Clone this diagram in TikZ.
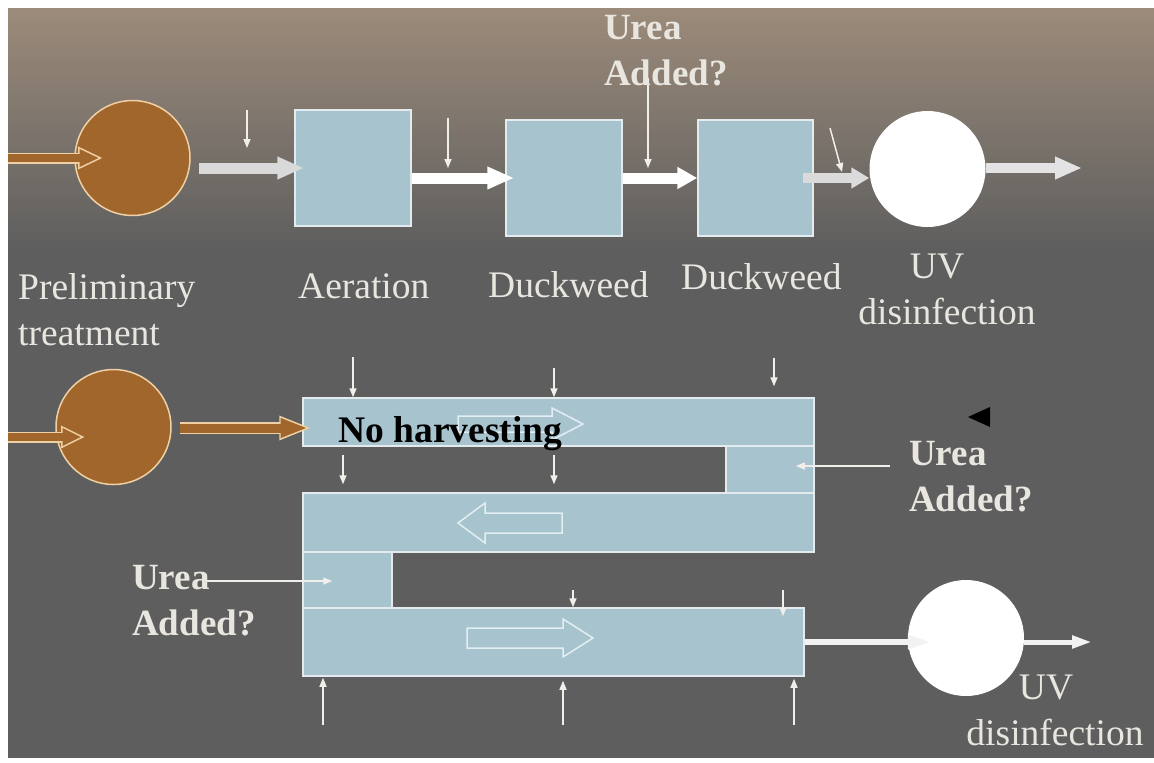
\documentclass[tikz,border=0pt]{standalone}
\usepackage{fontspec}
\setmainfont{Liberation Serif}
\usetikzlibrary{arrows.meta}

\definecolor{bggray}{HTML}{5E5E5E}
\definecolor{bgtop}{HTML}{9C8B7A}
\definecolor{boxblue}{HTML}{A7C3CE}
\definecolor{boxline}{HTML}{E3EBEE}
\definecolor{brownc}{HTML}{A1662C}
\definecolor{creamline}{HTML}{EFD0A4}
\definecolor{labeltext}{HTML}{E8E6DF}
\definecolor{feedc}{HTML}{F0EFEA}
\definecolor{flowline}{HTML}{E2EEF2}

\tikzset{
  txt/.style={text=labeltext, font=\fontsize{37.5}{46}\selectfont, inner sep=0pt, align=left},
  bold txt/.style={txt, font=\fontsize{37}{46}\selectfont\bfseries},
  tank/.style={draw=boxline, line width=1.5pt, fill=boxblue, inner sep=0pt,
    minimum width=116pt, minimum height=116pt},
  channel/.style={draw=boxline, line width=1.5pt, fill=boxblue, inner sep=0pt},
  brownpond/.style={circle, draw=creamline, line width=1.5pt, fill=brownc,
    inner sep=0pt, minimum size=115pt},
  uvpond/.style={circle, fill=white, inner sep=0pt, minimum size=116pt},
  feed/.style={draw=feedc, line width=1.5pt, -{Triangle[length=9pt,width=7pt]}},
  rim/.style={draw=creamline, line width=11pt, -{Triangle[length=25pt,width=21pt]}},
  core/.style={draw=brownc, line width=8pt, -{Triangle[length=19.6pt,width=16.5pt]},
    shorten >=3.9pt},
  pipe/.style={draw=#1, line width=11pt, -{Triangle[length=27pt,width=21pt]}},
  slimpipe/.style={draw=#1, line width=6pt, -{Triangle[length=24pt,width=13pt]}},
  flow/.style={draw=flowline, line width=1.5pt, line join=miter}
}

\begin{document}
\begin{tikzpicture}[x=1pt,y=-1pt]
  \useasboundingbox (0,0) rectangle (1154,763);
  % background
  \fill[white] (0,0) rectangle (1154,763);
  \fill[bggray] (8,8) rectangle (1154,758);
  \shade[top color=bgtop, bottom color=bggray] (8,8) rectangle (1154,250);

  % ---- conventional line ----
  \node[brownpond] (pre1) at (132.5,158) {};
  \node[tank] (aer) at (353,168) {};
  \node[tank] (duckA) at (564,178) {};
  \node[tank, minimum width=115pt] (duckB) at (755.5,178) {};
  \node[uvpond] (uv1) at (927.5,169) {};

  \coordinate (srcA) at (8,158);
  \draw[rim] (srcA) -- ([xshift=-29.5pt]pre1.center);
  \draw[core] (srcA) -- ([xshift=-29.5pt]pre1.center);

  \draw[pipe=black!15!white] ([shift={(8,10)}]pre1.east) -- ([xshift=10pt]aer.west);
  \draw[pipe=white] ([shift={(0,10)}]aer.east) -- ([xshift=9pt]duckA.west);
  \draw[pipe=white, -{Triangle[length=20pt,width=21pt]}] (duckA.east) -- (duckB.west);
  \draw[pipe=black!14!white, line width=10pt, -{Triangle[length=18pt,width=20pt]}]
    ([xshift=-11pt]duckB.east) -- (uv1.west |- duckB.east);
  \coordinate (out1) at (1082,168);
  \draw[pipe=black!11!white, line width=10pt] ([shift={(0,-1)}]uv1.east) -- (out1);

  \coordinate (fd1) at (247,110);
  \coordinate (fd2) at (448,118);
  \coordinate (fd3) at (648,78);
  \coordinate (fd4) at (830,128);
  \draw[feed] (fd1) -- ++(0,38);
  \draw[feed] (fd2) -- ++(0,50);
  \draw[feed] (fd3) -- ++(0,90);
  \draw[feed] (fd4) -- ++(12,44);

  \node[txt, anchor=north west] (preTxt) at (18,273) {Preliminary\\treatment};
  \node[txt, anchor=base west] (aerTxt) at (298,298) {Aeration};
  \node[txt, anchor=base west] (duckATxt) at (488,297) {Duckweed};
  \node[txt, anchor=base west] (duckBTxt) at (681,289) {Duckweed};
  \node[txt, align=center, anchor=north] (uv1Txt) at (947,253.5) {UV\hspace*{20pt}\\disinfection};
  \node[bold txt, anchor=north west] (ureaTop) at (604,15) {Urea\\Added?};

  % ---- duckweed channel line ----
  \node[brownpond] (pre2) at (113.5,427) {};
  \node[channel, minimum width=511pt, minimum height=48pt] (ch1) at (558.5,422) {};
  \node[channel, minimum width=88pt, minimum height=47pt] (turnR) at (770,469.5) {};
  \node[channel, minimum width=511pt, minimum height=59pt] (ch2) at (558.5,522.5) {};
  \node[channel, minimum width=89pt, minimum height=56pt] (turnL) at (347.5,580) {};
  \node[channel, minimum width=501pt, minimum height=68pt] (ch3) at (553.5,642) {};
  \node[uvpond] (uv2) at (966,638) {};

  \coordinate (srcB) at (8,437);
  \draw[rim, -{Triangle[length=24pt,width=21pt]}] (srcB) -- ([shift={(-28.5,10)}]pre2.center);
  \draw[core, -{Triangle[length=18.6pt,width=16.5pt]}] (srcB) -- ([shift={(-28.5,10)}]pre2.center);
  \draw[rim, line width=12pt, -{Triangle[length=33pt,width=22pt]}]
    ([shift={(8,1)}]pre2.east) -- ([shift={(10,6)}]ch1.west);
  \draw[core, line width=9pt, -{Triangle[length=27pt,width=18pt]}, shorten >=4.75pt]
    ([shift={(8,1)}]pre2.east) -- ([shift={(10,6)}]ch1.west);

  % flow direction in the channels
  \draw[flow] ([shift={(-100.5,-6)}]ch1.center) -- ++(94,0) -- ++(0,-8) -- ++(31,16)
    -- ++(-31,16) -- ++(0,-8) -- ++(-94,0) -- cycle;
  \draw[flow] ([shift={(-100.5,0.5)}]ch2.center) -- ++(27,-20) -- ++(0,10) -- ++(77,0)
    -- ++(0,20) -- ++(-77,0) -- ++(0,10) -- cycle;
  \draw[flow] ([shift={(-86.5,-14)}]ch3.center) -- ++(96,0) -- ++(0,-9) -- ++(30,19)
    -- ++(-30,19) -- ++(0,-9) -- ++(-96,0) -- cycle;

  \node[anchor=base west, inner sep=0pt, text=black,
    font=\fontsize{37.5}{46}\selectfont\bfseries] (noHarv) at (338,442) {No harvesting};

  \foreach \x/\y/\s [count=\i] in {353/357/0, 554/368/0, 774/358/11}
    {
      \coordinate (feedA\i) at (\x,\y);
      \draw[feed, shorten >=\s pt] (feedA\i) -- (feedA\i |- ch1.north);
    }
  \foreach \x [count=\i] in {343,554}
    {
      \coordinate (feedB\i) at (\x,455);
      \draw[feed, shorten >=8pt] (feedB\i) -- (feedB\i |- ch2.north);
    }
  \foreach \x/\s [count=\i] in {573/0, 783/-9}
    {
      \coordinate (feedC\i) at (\x,590);
      \draw[feed, shorten >=\s pt] (feedC\i) -- (feedC\i |- ch3.north);
    }
  \foreach \x/\s [count=\i] in {323/1, 563/4, 794/2}
    {
      \coordinate (feedD\i) at (\x,725);
      \draw[feed, shorten >=\s pt] (feedD\i) -- (feedD\i |- ch3.south);
    }

  \coordinate (ureaRarr) at (890,466);
  \draw[feed] (ureaRarr) -- (turnR.east |- ureaRarr) -- ++(-19,0);
  \coordinate (ureaLarr) at (207,581);
  \draw[feed, shorten >=-30pt] (ureaLarr) -- (turnL.west |- ureaLarr);

  \draw[slimpipe=black!5!white, shorten >=-24pt] (ch3.east) -- (uv2.west |- ch3.east);
  \coordinate (out2) at (1092,642);
  \draw[slimpipe=black!5!white, line width=5pt, -{Triangle[length=20pt,width=12pt]}]
    (uv2.east |- ch3.east) -- (out2);

  \fill[black] (968,417) -- (990,407) -- (990,427) -- cycle;

  \node[bold txt, anchor=north west] (ureaR) at (909,441) {Urea\\Added?};
  \node[bold txt, anchor=north west] (ureaL) at (132,565) {Urea\\Added?};
  \node[txt, align=center, anchor=north] (uv2Txt) at (1055,674.5) {UV\hspace*{18pt}\\disinfection};
\end{tikzpicture}
\end{document}
